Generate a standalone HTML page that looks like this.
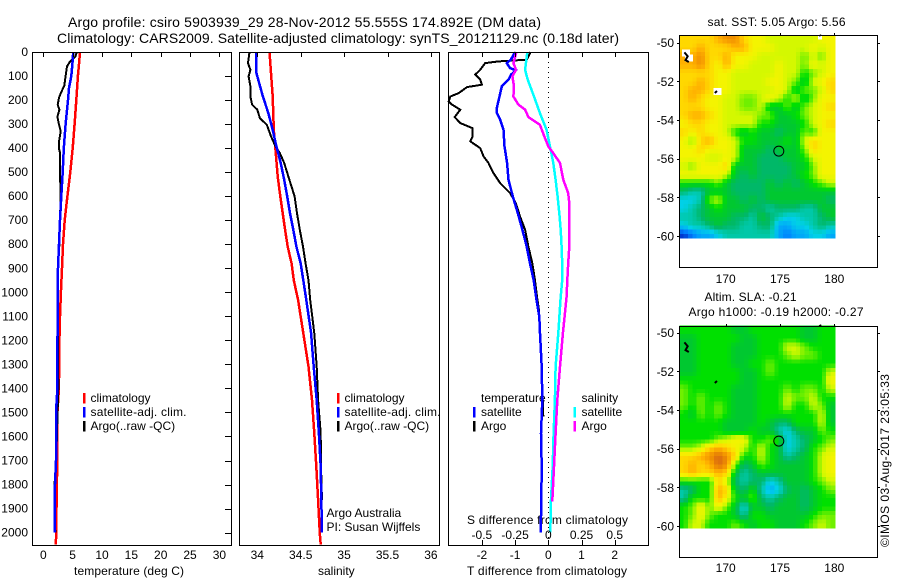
<!DOCTYPE html>
<html lang="en">
<head>
<meta charset="utf-8">
<title>Argo profile 5903939_29</title>
<style>
html,body{margin:0;padding:0;background:#fff;}
svg{display:block;}
text{font-family:"Liberation Sans",sans-serif;font-size:12px;fill:#000;}
</style>
</head>
<body>
<svg id="chart" xmlns="http://www.w3.org/2000/svg" width="900" height="580" viewBox="0 0 900 580">
<text x="68" y="27" font-size="14" style="font-size:14px" textLength="473">Argo profile: csiro 5903939_29 28-Nov-2012 55.555S 174.892E (DM data)</text>
<text x="57" y="43" style="font-size:14px" textLength="562">Climatology: CARS2009. Satellite-adjusted climatology: synTS_20121129.nc (0.18d later)</text>

<text x="74" y="575" textLength="110">temperature (deg C)</text>
<text x="318" y="575">salinity</text>
<text x="467" y="575" textLength="160">T difference from climatology</text>
<text x="467" y="524" textLength="161">S difference from climatology</text>

<text x="90.5" y="402">climatology</text>
<text x="90.5" y="416" textLength="96">satellite-adj. clim.</text>
<text x="90.5" y="430">Argo(..raw -QC)</text>
<text x="344.5" y="402">climatology</text>
<text x="344.5" y="416" textLength="96">satellite-adj. clim.</text>
<text x="344.5" y="430">Argo(..raw -QC)</text>
<text x="326.5" y="517">Argo Australia</text>
<text x="326.5" y="531">PI: Susan Wijffels</text>

<text x="481" y="402">temperature</text>
<text x="481" y="416">satellite</text>
<text x="481" y="430">Argo</text>
<text x="581.5" y="402">salinity</text>
<text x="581.5" y="416">satellite</text>
<text x="581.5" y="430">Argo</text>

<text x="707.5" y="26" textLength="138">sat. SST: 5.05 Argo: 5.56</text>
<text x="704.5" y="301" textLength="92">Altim. SLA: -0.21</text>
<text x="688.5" y="316" textLength="175">Argo h1000: -0.19 h2000: -0.27</text>
<text transform="translate(889 547) rotate(-90)" textLength="173">©IMOS 03-Aug-2017 23:05:33</text>
</svg>

<script>
// ---------- axis tick values ----------
const depthTicks = [0,100,200,300,400,500,600,700,800,900,1000,1100,1200,1300,1400,1500,1600,1700,1800,1900,2000];
const temperatureTicks = [0,5,10,15,20,25,30];
const salinityTicks = [34,34.5,35,35.5,36];
const salinityTickLabels = ['34','34.5','35','35.5','36'];
const tDiffTicks = [-2,-1,0,1,2];
const sDiffTicks = [-0.5,-0.25,0,0.25,0.5];
const sDiffTickLabels = ['-0.5','-0.25','0','0.25','0.5'];
const lonTicks = [170,175,180];
const latTicks = [-50,-52,-54,-56,-58,-60];

// ---------- temperature panel ----------
const tempClimDepth = [0,50,100,200,300,400,500,600,700,800,900,1000,1100,1200,1400,1500,1700,1800,1900,2000,2050];
const tempClimValue = [6.25,6.08,5.9,5.63,5.34,5.0,4.6,4.1,3.64,3.35,3.19,3.0,2.85,2.75,2.65,2.4,2.4,2.3,2.25,2.25,2.1];
const tempSatDepth = [0,50,100,150,200,300,400,500,600,700,800,900,1000,1100,1200,1400,1500,1700,1800,2000];
const tempSatValue = [5.1,4.95,4.77,4.38,4.2,3.8,3.5,3.3,3.07,2.85,2.68,2.5,2.45,2.5,2.4,2.4,2.17,2.17,2.0,1.95];
const tempArgoDepth = [0,20,40,60,100,140,170,190,220,240,270,300,330,370,400,420,500,600,700,800,900,1100,1400,1700,1800,2000];
const tempArgoValue = [5.7,5.45,4.55,4.04,3.8,3.58,3.0,2.68,2.45,2.75,2.4,2.65,2.96,2.7,2.65,2.85,2.85,2.95,2.85,2.75,2.5,2.5,2.55,2.2,1.9,2.05];

// ---------- salinity panel ----------
const salClimDepth = [0,185,324,407,518,601,740,810,880,950,1032,1170,1309,1448,1587,1725,1864,2003,2050];
const salClimValue = [34.14,34.177,34.19,34.21,34.235,34.265,34.32,34.35,34.395,34.42,34.47,34.53,34.59,34.63,34.657,34.68,34.70,34.72,34.73];
const salSatDepth = [0,87,115,185,254,324,393,462,532,601,671,740,810,880,950,1032,1170,1309,1448,1587,1725,1864,2000];
const salSatValue = [33.99,33.99,34.01,34.065,34.127,34.177,34.22,34.27,34.31,34.345,34.377,34.415,34.45,34.5,34.53,34.565,34.62,34.65,34.684,34.71,34.73,34.737,34.745];
const salArgoDepth = [0,46,74,101,143,185,219,240,275,303,351,393,421,462,532,601,671,740,810,880,950,1032,1170,1309,1448,1587,1725,1864];
const salArgoValue = [33.91,33.893,33.92,33.90,33.92,33.92,33.94,34.0,34.03,34.11,34.158,34.21,34.26,34.31,34.37,34.43,34.457,34.49,34.526,34.557,34.59,34.61,34.657,34.684,34.70,34.73,34.734,34.745];

// ---------- difference panel ----------
const dTempArgoDepth = [0,32,39,46,74,94,115,136,146,171,185,205,219,240,271,296,317,351,372,400,435,462,504,546,587,629,685,740,810,880,950,1018,1074,1170,1309,1517];
const dTempArgoValue = [-0.53,-0.65,-1.5,-1.9,-2.05,-2.2,-2.05,-2,-2.45,-2.7,-2.95,-3.0,-2.9,-2.65,-2.82,-2.65,-2.28,-2.28,-2.35,-2.05,-1.95,-1.8,-1.65,-1.45,-1.15,-0.98,-0.85,-0.7,-0.6,-0.48,-0.4,-0.34,-0.28,-0.25,-0.2,-0.15];
const dTempSatDepth = [0,32,46,67,76,94,115,143,185,233,254,282,324,393,462,532,601,671,740,810,880,950,1018,1101,1170,1309,1448,1587,1725,1864,2000];
const dTempSatValue = [-1.0,-1.13,-1.25,-1.15,-0.98,-1.12,-1.2,-1.4,-1.47,-1.55,-1.55,-1.45,-1.35,-1.32,-1.24,-1.2,-1.07,-0.92,-0.78,-0.65,-0.55,-0.44,-0.37,-0.27,-0.25,-0.2,-0.18,-0.22,-0.2,-0.21,-0.23];
const dSalSatDepth = [0,74,115,185,254,324,393,462,532,601,671,740,810,880,950,1018,1170,1309,1448,1587,1725,1864,2000];
const dSalSatValue = [-0.158,-0.175,-0.155,-0.108,-0.063,-0.013,0.013,0.038,0.055,0.07,0.083,0.093,0.10,0.105,0.105,0.093,0.075,0.055,0.05,0.04,0.033,0.02,0.015];
const dSalArgoDepth = [0,46,74,101,143,185,219,240,271,303,351,393,421,462,532,587,629,740,810,880,950,1018,1170,1309,1448,1587,1725,1870];
const dSalArgoValue = [-0.24,-0.263,-0.243,-0.27,-0.258,-0.263,-0.225,-0.175,-0.15,-0.063,-0.03,0,0.038,0.088,0.113,0.15,0.158,0.16,0.158,0.15,0.143,0.138,0.11,0.088,0.068,0.055,0.043,0.03];

// ---------- map panels (colour-level grids, 18 columns x 24 rows, north to south) ----------
const sstLevels = [
[11,11,11,11,12,13,13,11,10,10,9,9,9,9,9,9,10,10],
[11,11,12,11,11,11,12,12,10,10,10,9,9,9,9,10,9,10],
[12,12,13,11,11,12,10,10,10,9,9,9,9,9,8,9,8,10],
[12,12,13,11,10,12,10,10,9,9,9,10,9,9,8,10,9,10],
[11,11,11,11,10,10,9,9,9,9,9,10,9,9,7,8,9,10],
[11,11,12,11,10,10,9,9,9,9,10,10,9,8,6,9,10,11],
[11,12,12,11,10,10,9,9,9,9,9,10,9,6,8,8,9,11],
[11,12,11,10,10,9,9,8,8,9,10,9,7,9,6,8,10,10],
[11,11,11,10,10,9,9,8,8,9,6,6,8,6,8,9,10,11],
[11,12,12,11,10,9,9,9,9,8,8,6,6,7,8,9,10,10],
[10,11,11,10,10,9,9,9,9,7,7,6,6,6,7,9,10,11],
[11,10,11,10,10,9,7,6,7,6,6,5,6,6,8,7,10,10],
[10,8,11,12,10,10,9,7,7,6,6,6,7,6,9,11,10,10],
[10,10,11,10,10,10,9,6,6,6,5,6,6,6,8,11,10,10],
[10,10,10,9,9,10,9,6,6,5,5,5,6,6,7,9,10,10],
[9,8,10,10,10,11,6,6,6,5,5,5,5,6,6,8,10,10],
[10,10,10,10,10,9,6,5,6,5,5,5,5,6,7,8,10,10],
[7,7,7,7,8,6,5,5,5,5,6,5,6,5,6,7,8,9],
[5,4,4,6,6,6,5,5,5,5,6,6,6,6,6,6,6,6],
[3,3,4,8,9,6,6,5,6,5,6,6,6,6,6,6,6,5],
[3,4,5,6,7,6,6,6,5,5,4,5,5,5,4,4,6,6],
[4,4,5,6,6,6,5,5,4,6,5,4,3,3,4,4,5,6],
[3,4,4,5,6,5,5,4,4,5,5,2,2,3,3,4,5,4],
[0,1,2,2,3,4,4,4,4,4,4,2,1,2,2,3,3,2]
];
const slaLevels = [
[7,7,7,7,7,7,6,6,7,7,7,7,7,7,6,6,7,7],
[6,6,7,7,7,7,7,6,6,7,7,7,7,7,6,6,7,7],
[6,6,7,7,7,7,6,6,6,7,7,7,9,9,8,7,7,7],
[6,6,7,7,7,7,6,6,6,7,7,7,8,9,8,8,7,7],
[6,6,7,7,7,7,6,6,7,7,8,7,7,7,7,7,7,7],
[6,6,7,7,7,7,7,6,6,7,8,7,7,7,7,7,7,9],
[7,7,7,7,7,7,7,6,6,7,7,7,7,7,7,7,7,10],
[8,7,7,7,7,7,6,6,6,7,7,7,8,7,8,8,7,9],
[8,7,8,7,7,7,6,6,6,7,7,7,9,8,8,9,7,7],
[8,7,8,7,8,7,6,6,6,7,7,7,9,7,7,9,8,6],
[7,6,8,7,8,7,6,6,6,7,7,7,7,7,7,7,9,6],
[7,7,7,7,7,6,6,6,6,7,6,5,5,7,7,7,9,6],
[7,7,7,7,7,6,6,6,7,6,6,4,3,5,6,6,8,7],
[7,7,7,7,8,9,10,10,7,7,8,7,3,4,5,6,7,8],
[8,8,9,11,12,11,10,9,7,9,7,6,3,4,5,7,8,9],
[11,11,12,13,14,13,11,7,7,9,7,6,4,5,6,7,9,10],
[11,12,11,12,14,13,8,5,6,8,7,6,6,6,6,7,9,10],
[11,12,11,11,12,11,6,4,5,6,6,6,6,6,6,7,9,10],
[7,7,7,7,11,9,5,4,5,5,3,4,6,6,6,7,8,9],
[4,5,7,7,12,11,6,5,7,4,2,3,5,6,5,6,7,8],
[4,7,7,7,12,10,7,6,8,5,4,5,6,6,5,6,7,7],
[7,8,10,8,10,8,6,3,6,6,5,6,6,6,5,6,7,7],
[7,8,10,8,7,7,6,4,7,7,6,6,6,6,6,7,8,8],
[7,9,9,7,7,7,8,7,6,7,7,6,6,6,7,8,9,8]
];
const floatLon = 174.892;
const floatLat = -55.555;
const coastLon = [166.2,166.5,166.3,166.6];
const coastLat = [-50.5,-50.7,-50.9,-51.0];
const islandLon = [169.0,169.2];
const islandLat = [-52.6,-52.5];
const northIslandLon = [178.6,178.8];
const northIslandLat = [-49.65,-49.6];
const sstMissingLon = [166.34,166.62,169.24];
const sstMissingLat = [-50.53,-50.79,-52.52];

const levelColours = ['#0038d0','#0080ff','#00a8f8','#00d0e8','#00c8a8','#00b868','#00c830','#00e000','#70f000','#d4f800','#f4f400','#ffd800','#ffb000','#f09000','#d86810'];

// ---------- drawing ----------
const NS = 'http://www.w3.org/2000/svg';
const svg = document.getElementById('chart');
function make(tag, attrs, parent) {
  const el = document.createElementNS(NS, tag);
  for (const k in attrs) el.setAttribute(k, attrs[k]);
  (parent || svg).appendChild(el);
  return el;
}

const depthY = d => 52 + d * 0.2403;
const tempX = v => 43.3 + v * 5.87;
const salX = v => 257.3 + (v - 34) * 86.8;
const dTempX = v => 548.3 + v * 33.2;
const dSalX = v => 548.3 + v * 132.8;

function drawSeries(name, depths, values, xFn, colour, width) {
  const pts = depths.map((d, i) => xFn(values[i]).toFixed(1) + ',' + depthY(d).toFixed(1)).join(' ');
  const el = make('polyline', {points: pts, fill: 'none', stroke: colour, 'stroke-width': width, 'shape-rendering': 'crispEdges'});
  
  
}

function drawBox(name, x0, y0, x1, y1) {
  const el = make('rect', {x: x0, y: y0, width: x1 - x0, height: y1 - y0, fill: 'none', stroke: '#000', 'stroke-width': 1, 'shape-rendering': 'crispEdges'});
  
  
}

function drawTick(name, x1, y1, x2, y2) {
  const el = make('line', {x1: x1, y1: y1, x2: x2, y2: y2, stroke: '#000', 'stroke-width': 1, 'shape-rendering': 'crispEdges'});
  
  
}

function drawLabel(name, x, y, anchor, str) {
  const el = make('text', {x: x, y: y, 'text-anchor': anchor});
  el.textContent = str;
  
  
}

function legendMark(name, x, y, colour) {
  const el = make('rect', {x: x, y: y, width: 2.5, height: 10.5, fill: colour, 'shape-rendering': 'crispEdges'});
  
  
}

// temperature panel
drawSeries('temperature-climatology-line', tempClimDepth, tempClimValue, tempX, '#ff0000', 2.5);
drawSeries('temperature-argo-line', tempArgoDepth, tempArgoValue, tempX, '#000000', 2);
drawSeries('temperature-satellite-line', tempSatDepth, tempSatValue, tempX, '#0000ff', 2.5);
drawBox('temperature-panel-frame', 32.5, 52.5, 231.5, 545.5);
depthTicks.forEach(d => {
  const y = Math.round(depthY(d)) + 0.5;
  if (d > 0) drawTick('depth-tick', 225, y, 231, y);
  drawLabel('depth-tick-label', 28, depthY(d) + 4, 'end', String(d));
});
temperatureTicks.forEach(v => {
  const x = Math.round(tempX(v)) + 0.5;
  drawTick('temperature-tick', x, 52, x, 57);
  drawLabel('temperature-tick-label', tempX(v), 559, 'middle', String(v));
});
legendMark('temperature-legend-climatology-mark', 83, 393, '#ff0000');
legendMark('temperature-legend-satellite-mark', 83, 407, '#0000ff');
legendMark('temperature-legend-argo-mark', 83, 421, '#000000');

// salinity panel
drawSeries('salinity-climatology-line', salClimDepth, salClimValue, salX, '#ff0000', 2.5);
drawSeries('salinity-argo-line', salArgoDepth, salArgoValue, salX, '#000000', 2);
drawSeries('salinity-satellite-line', salSatDepth, salSatValue, salX, '#0000ff', 2.5);
drawBox('salinity-panel-frame', 239.5, 52.5, 439.5, 545.5);
salinityTicks.forEach((v, i) => {
  const x = Math.round(salX(v)) + 0.5;
  drawTick('salinity-tick', x, 52, x, 57);
  drawLabel('salinity-tick-label', salX(v), 559, 'middle', salinityTickLabels[i]);
});
legendMark('salinity-legend-climatology-mark', 337, 393, '#ff0000');
legendMark('salinity-legend-satellite-mark', 337, 407, '#0000ff');
legendMark('salinity-legend-argo-mark', 337, 421, '#000000');

// difference panel
const zeroLine = make('line', {x1: 548.5, y1: 52, x2: 548.5, y2: 545, stroke: '#000', 'stroke-width': 1, 'stroke-dasharray': '1 4', 'shape-rendering': 'crispEdges'});


drawSeries('t-difference-argo-line', dTempArgoDepth, dTempArgoValue, dTempX, '#000000', 2);
drawSeries('t-difference-satellite-line', dTempSatDepth, dTempSatValue, dTempX, '#0000ff', 2.5);
drawSeries('s-difference-satellite-line', dSalSatDepth, dSalSatValue, dSalX, '#00ffff', 2.5);
drawSeries('s-difference-argo-line', dSalArgoDepth, dSalArgoValue, dSalX, '#ff00ff', 2.5);
drawBox('difference-panel-frame', 448.5, 52.5, 648.5, 545.5);
tDiffTicks.forEach(v => {
  const x = Math.round(dTempX(v)) + 0.5;
  drawTick('t-difference-tick', x, 52, x, 57);
  drawTick('t-difference-bottom-tick', x, 540, x, 545);
  drawLabel('t-difference-tick-label', dTempX(v), 559, 'middle', String(v));
});
sDiffTicks.forEach((v, i) => {
  drawLabel('s-difference-tick-label', dSalX(v), 539, 'middle', sDiffTickLabels[i]);
});
legendMark('diff-legend-temperature-satellite-mark', 473, 407, '#0000ff');
legendMark('diff-legend-temperature-argo-mark', 473, 421, '#000000');
legendMark('diff-legend-salinity-satellite-mark', 573.5, 407, '#00ffff');
legendMark('diff-legend-salinity-argo-mark', 573.5, 421, '#ff00ff');

// continuous colour for a fractional level
function hexToRgb(hex) {
  return [parseInt(hex.slice(1,3),16), parseInt(hex.slice(3,5),16), parseInt(hex.slice(5,7),16)];
}
function levelColour(level) {
  const lo = Math.max(0, Math.min(levelColours.length - 1, Math.floor(level)));
  const hi = Math.min(levelColours.length - 1, lo + 1);
  const f = Math.max(0, Math.min(1, level - lo));
  const a = hexToRgb(levelColours[lo]);
  const b = hexToRgb(levelColours[hi]);
  return 'rgb(' + a.map((v, i) => Math.round(v + (b[i] - v) * f)).join(',') + ')';
}
// display resampling of a level grid at half-cell resolution
function sampleGrid(levels, gx, gy) {
  const rows = levels.length, cols = levels[0].length;
  const x = Math.max(0, Math.min(cols - 1, gx));
  const y = Math.max(0, Math.min(rows - 1, gy));
  const x0 = Math.floor(x), y0 = Math.floor(y);
  const x1 = Math.min(cols - 1, x0 + 1), y1 = Math.min(rows - 1, y0 + 1);
  const fx = x - x0, fy = y - y0;
  return (levels[y0][x0] * (1 - fx) + levels[y0][x1] * fx) * (1 - fy) +
         (levels[y1][x0] * (1 - fx) + levels[y1][x1] * fx) * fy;
}

// map panels
function drawMap(prefix, levels, top, bottom, lat50Y, boxBottom, lonLabelY) {
  const left = 679.3, right = 834.7;
  const sub = 2;
  const nCols = levels[0].length * sub, nRows = levels.length * sub;
  const cw = (right - left) / nCols;
  const ch = (bottom - top) / nRows;
  for (let r = 0; r < nRows; r++) {
    for (let c = 0; c < nCols; c++) {
      const lvl = sampleGrid(levels, (c + 0.5) / sub - 0.5, (r + 0.5) / sub - 0.5);
      const cell = make('rect', {x: (left + c * cw).toFixed(2), y: (top + r * ch).toFixed(2), width: (cw + 0.6).toFixed(2), height: (ch + 0.6).toFixed(2), fill: levelColour(lvl), 'shape-rendering': 'crispEdges'});
      
      
    }
  }
  const mapX = lon => 725.7 + (lon - 170) * 10.86;
  const mapY = lat => lat50Y + (-50 - lat) * 19.33;

  if (prefix === 'sst-map') {
    sstMissingLon.forEach((lon, i) => {
      const patch = make('rect', {x: (mapX(lon) - 4).toFixed(1), y: (mapY(sstMissingLat[i]) - 3.5).toFixed(1), width: 8, height: 7, fill: '#fff', 'shape-rendering': 'crispEdges'});
      
      
    });
    const northPatch = make('rect', {x: (mapX(178.68) - 2).toFixed(1), y: (mapY(-49.7) - 2.5).toFixed(1), width: 4, height: 5, fill: '#fff', 'shape-rendering': 'crispEdges'});
    
    
  }

  const coast = make('polyline', {points: coastLon.map((v, i) => mapX(v).toFixed(1) + ',' + mapY(coastLat[i]).toFixed(1)).join(' '), fill: 'none', stroke: '#000', 'stroke-width': 2});
  
  
  const island = make('polyline', {points: islandLon.map((v, i) => mapX(v).toFixed(1) + ',' + mapY(islandLat[i]).toFixed(1)).join(' '), fill: 'none', stroke: '#000', 'stroke-width': 2});
  
  
  const northIsland = make('polyline', {points: northIslandLon.map((v, i) => mapX(v).toFixed(1) + ',' + mapY(northIslandLat[i]).toFixed(1)).join(' '), fill: 'none', stroke: '#000', 'stroke-width': 1.5});
  
  

  const ring = make('circle', {cx: mapX(floatLon).toFixed(1), cy: (mapY(floatLat) + 1).toFixed(1), r: 5, fill: 'none', stroke: '#000', 'stroke-width': 1});
  
  

  drawBox(prefix + '-frame', 679.5, Math.round(top) + 0.5, 877.5, boxBottom);
  lonTicks.forEach(v => {
    const x = Math.round(mapX(v)) + 0.5;
    drawTick(prefix + '-longitude-tick', x, Math.round(top) - 2, x, Math.round(top));
    drawLabel(prefix + '-longitude-label', mapX(v), lonLabelY, 'middle', String(v));
  });
  latTicks.forEach(v => {
    const y = Math.round(mapY(v)) + 0.5;
    drawTick(prefix + '-latitude-tick-left', 677, y, 679, y);
    drawTick(prefix + '-latitude-tick-right', 878, y, 880, y);
    drawLabel(prefix + '-latitude-label', 674, mapY(v) + 4.5, 'end', String(v));
  });
}
drawMap('sst-map', sstLevels, 35, 238, 42.7, 267.5, 283);
drawMap('sla-map', slaLevels, 325.7, 527.7, 332.7, 557.5, 572);
</script>
</body>
</html>
